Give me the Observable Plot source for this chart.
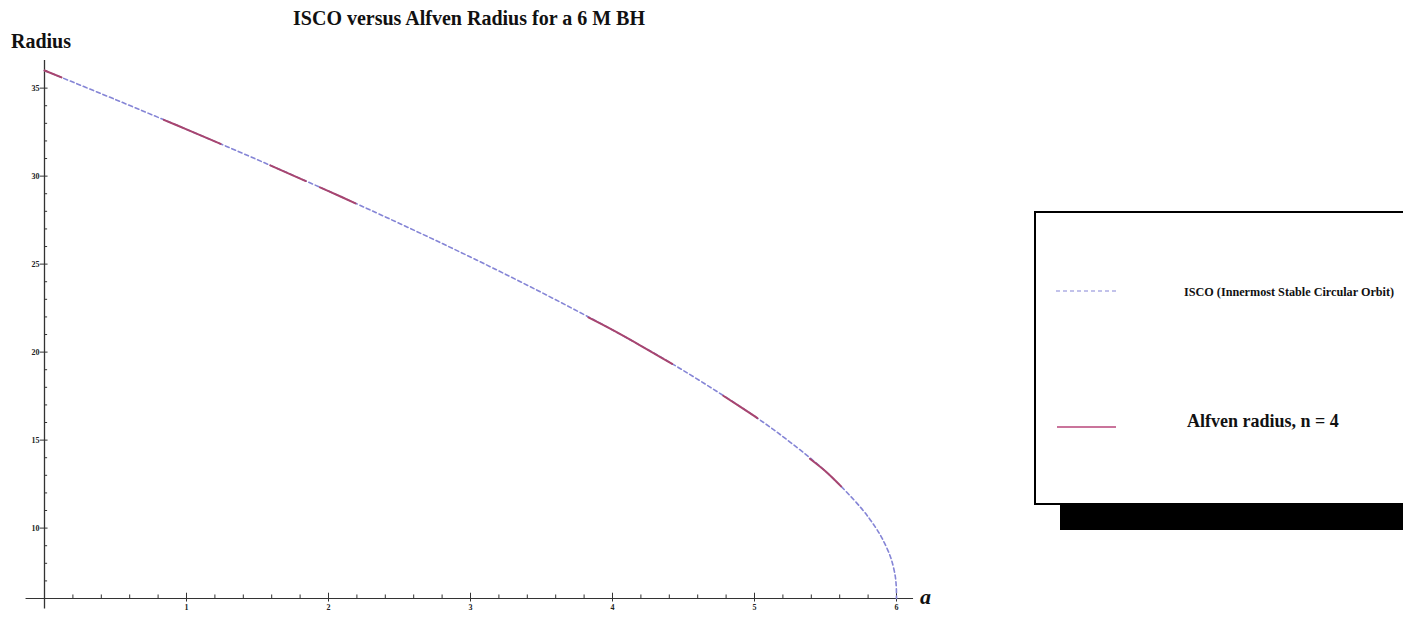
<!DOCTYPE html>
<html><head><meta charset="utf-8">
<script src="https://cdn.jsdelivr.net/npm/d3@7"></script>
<script src="https://cdn.jsdelivr.net/npm/@observablehq/plot@0.6"></script>
<style>
html,body{margin:0;padding:0;background:#fff;overflow:hidden;width:1403px;height:624px}
#wrap{position:relative;width:1403px;height:624px;overflow:hidden}
</style></head><body><div id="wrap"></div>
<script>
const titleText = "ISCO versus Alfven Radius for a 6 M BH";
const yLabelText = "Radius";
const xLabelText = "a";
const legendLabels = ["ISCO (Innermost Stable Circular Orbit)", "Alfven radius, n = 4"];

// ISCO curve (spin a vs radius)
const iscoA = [0, 0.5, 1, 1.5, 2, 2.5, 3, 3.5, 4, 4.5, 5, 5.25, 5.5, 5.75, 5.85, 5.9, 5.95, 5.97, 5.99, 5.995, 5.999, 6];
const iscoR = [36.00, 34.35, 32.66, 30.93, 29.15, 27.31, 25.40, 23.39, 21.26, 18.95, 16.36, 14.89, 13.23, 11.15, 10.07, 9.40, 8.53, 8.05, 7.33, 7.02, 6.57, 6.00];

// Alfven radius, n = 4 (visible pieces)
const alfvenSeg = [1, 1, 2, 2, 2, 3, 3, 4, 4, 4, 5, 5, 5, 5, 6, 6, 6, 7, 7, 7];
const alfvenA = [0, 0.12, 0.84, 1.0, 1.24, 1.59, 1.84, 1.94, 2.0, 2.19, 3.83, 4.0, 4.2, 4.42, 4.78, 5.0, 5.02, 5.39, 5.5, 5.61];
const alfvenR = [36.00, 35.61, 33.20, 32.66, 31.83, 30.61, 29.72, 29.36, 29.15, 28.45, 21.97, 21.26, 20.36, 19.33, 17.52, 16.36, 16.25, 13.94, 13.23, 12.37];

const xMajor = [1, 2, 3, 4, 5, 6];
const xMinor = [0.2, 0.4, 0.6, 0.8, 1.2, 1.4, 1.6, 1.8, 2.2, 2.4, 2.6, 2.8, 3.2, 3.4, 3.6, 3.8, 4.2, 4.4, 4.6, 4.8, 5.2, 5.4, 5.6, 5.8];
const yMajor = [10, 15, 20, 25, 30, 35];
const yMinor = [7, 8, 9, 11, 12, 13, 14, 16, 17, 18, 19, 21, 22, 23, 24, 26, 27, 28, 29, 31, 32, 33, 34, 36];

const isco = iscoA.map((a, i) => ({a, r: iscoR[i]}));
const alfven = alfvenA.map((a, i) => ({a, r: alfvenR[i], seg: alfvenSeg[i]}));

const axisColor = "#333";
const font = "Liberation Serif, Times New Roman, serif";

const chart = Plot.plot({
  width: 1403, height: 624,
  marginLeft: 44, marginRight: 507, marginTop: 60, marginBottom: 26,
  x: {domain: [0, 6], axis: null},
  y: {domain: [6, 36.57], axis: null},
  style: {fontFamily: font, background: "transparent"},
  marks: [
    Plot.ruleY([6], {x1: -0.13, x2: 6.12, stroke: axisColor, strokeWidth: 1.1}),
    Plot.ruleX([0], {y1: 5.4, y2: 36.57, stroke: axisColor, strokeWidth: 1.3}),
    Plot.ruleX(xMinor, {x: d => d, y1: 6, y2: 6.2, stroke: axisColor, strokeWidth: 1}),
    Plot.ruleX(xMajor, {x: d => d, y1: 5.8, y2: 6.3, stroke: axisColor, strokeWidth: 1}),
    Plot.ruleY(yMinor, {y: d => d, x1: 0, x2: 0.022, stroke: axisColor, strokeWidth: 1}),
    Plot.ruleY(yMajor, {y: d => d, x1: -0.03, x2: 0.025, stroke: axisColor, strokeWidth: 1}),
    Plot.text(xMajor, {x: d => d, y: 6, dy: 9, text: d => String(d), fontSize: 8, fontWeight: "bold", fill: "#222"}),
    Plot.text(yMajor, {x: 0, y: d => d, dx: -5, text: d => String(d), textAnchor: "end", fontSize: 8, fontWeight: "bold", fill: "#222"}),
    Plot.line(isco, {x: "a", y: "r", stroke: "#8585d6", strokeWidth: 1.6, strokeDasharray: "4,3", curve: "catmull-rom"}),
    Plot.line(alfven, {x: "a", y: "r", z: "seg", stroke: "#a8456f", strokeWidth: 2, curve: "catmull-rom"})
  ]
});

const svg = d3.select(chart);
function addText(x, y, size, txt, opts = {}) {
  return svg.append("text").attr("x", x).attr("y", y)
    .attr("text-anchor", opts.anchor || "start")
    .attr("font-family", font).attr("font-weight", "bold")
    .attr("font-style", opts.italic ? "italic" : "normal")
    .attr("font-size", size).attr("fill", "#111").text(txt);
}
addText(469, 25, 20, titleText, {anchor: "middle"});
addText(11, 48, 20, yLabelText);
addText(920, 604, 22, xLabelText, {italic: true});

// legend box with shadow
svg.append("rect").attr("x", 1060).attr("y", 505).attr("width", 400).attr("height", 25).attr("fill", "#000");
svg.append("rect").attr("x", 1035).attr("y", 212).attr("width", 420).attr("height", 292)
  .attr("fill", "#fff").attr("stroke", "#000").attr("stroke-width", 2);
svg.append("line").attr("x1", 1056).attr("x2", 1117).attr("y1", 291).attr("y2", 291)
  .attr("stroke", "#8585d6").attr("stroke-width", 1).attr("stroke-dasharray", "4,3");
addText(1184, 296, 12.2, legendLabels[0]);
svg.append("line").attr("x1", 1057).attr("x2", 1116).attr("y1", 427).attr("y2", 427)
  .attr("stroke", "#b8467a").attr("stroke-width", 1.6);
addText(1187, 427, 18, legendLabels[1]);

document.getElementById("wrap").appendChild(chart);
</script></body></html>
